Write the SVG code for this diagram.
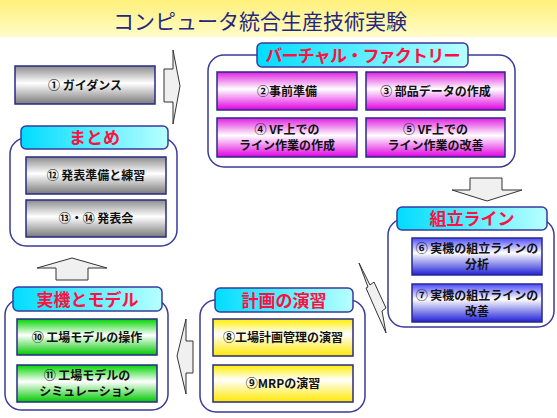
<svg xmlns="http://www.w3.org/2000/svg" width="557" height="418" viewBox="0 0 557 418">
<defs>
<linearGradient id="gBan" x1="0" y1="0" x2="0" y2="1"><stop offset="0" stop-color="#fff07a"/><stop offset="1" stop-color="#fffcc8"/></linearGradient>
<linearGradient id="gTab" x1="0" y1="0" x2="1" y2="0"><stop offset="0" stop-color="#00dcff"/><stop offset="1" stop-color="#b8ffff"/></linearGradient>
<linearGradient id="gGray" x1="0" y1="0" x2="0" y2="1"><stop offset="0" stop-color="#8c8c8c"/><stop offset="0.45" stop-color="#ffffff"/><stop offset="1" stop-color="#7a7a7a"/></linearGradient>
<linearGradient id="gPink" x1="0" y1="0" x2="0" y2="1"><stop offset="0" stop-color="#e020e0"/><stop offset="0.45" stop-color="#ffffff"/><stop offset="1" stop-color="#e000e0"/></linearGradient>
<linearGradient id="gBlue" x1="0" y1="0" x2="0" y2="1"><stop offset="0" stop-color="#4a4aff"/><stop offset="0.4" stop-color="#ffffff"/><stop offset="1" stop-color="#2020d8"/></linearGradient>
<linearGradient id="gYel" x1="0" y1="0" x2="0" y2="1"><stop offset="0" stop-color="#ffee00"/><stop offset="0.4" stop-color="#ffffff"/><stop offset="1" stop-color="#ffe800"/></linearGradient>
<linearGradient id="gGrn" x1="0" y1="0" x2="0" y2="1"><stop offset="0" stop-color="#00d400"/><stop offset="0.45" stop-color="#ffffff"/><stop offset="1" stop-color="#00c800"/></linearGradient>
</defs>
<style>
.grp{fill:#ffffff;stroke:#3a3a9a;stroke-width:1.5}
.tab{fill:url(#gTab);stroke:#3a3a9a;stroke-width:1.5}
.box{stroke:#2a2a88;stroke-width:1.5}
.tt{font-family:"Noto Sans CJK JP",sans-serif;font-size:17px;font-weight:bold;fill:#ff1040;text-anchor:middle}
.bt{font-family:"Noto Sans CJK JP",sans-serif;font-size:12px;font-weight:bold;fill:#111111;text-anchor:middle}
.arr{fill:#f0f0f0;stroke:#333333;stroke-width:1}
</style>
<rect x="0" y="0" width="557" height="37" fill="url(#gBan)"/>
<text x="260" y="29" font-family="'Noto Sans CJK JP',sans-serif" font-size="21" fill="#26267e" text-anchor="middle">コンピュータ統合生産技術実験</text>

<g id="connectors">
<polygon class="arr" points="164,69 173,69 173,50 180,86 173,124 173,102 164,102"/>
<polygon class="arr" points="470,178 502,178 502,190 522,190 487,201 452,190 470,190"/>
<polygon class="arr" points="359,263 370,285 374,282 386,308 382,311 386,333 377,313 366,288 368,287"/>
<polygon class="arr" points="193,341 186,341 186,319 177,356 186,394 186,373 193,373"/>
<polygon class="arr" points="56,280 88,280 88,268 107,268 72,258 37,268 56,268"/>
</g>

<g id="n1">
<rect class="box" x="15" y="66" width="140" height="38" fill="url(#gGray)"/>
<text class="bt" x="85" y="89.5">① ガイダンス</text>
</g>

<g id="matome">
<rect class="grp" x="10" y="138" width="167" height="108" rx="16"/>
<rect class="tab" x="21" y="126" width="147" height="23" rx="5"/>
<text class="tt" x="94.5" y="144">まとめ</text>
<g id="n12"><rect class="box" x="26" y="157" width="140" height="37" fill="url(#gGray)"/><text class="bt" x="96" y="180">⑫ 発表準備と練習</text></g>
<g id="n13"><rect class="box" x="26" y="200" width="140" height="37" fill="url(#gGray)"/><text class="bt" x="96" y="223">⑬・⑭ 発表会</text></g>
</g>

<g id="vf">
<rect class="grp" x="208" y="55" width="307" height="112" rx="16"/>
<rect class="tab" x="257" y="43" width="211" height="24" rx="5"/>
<text class="tt" x="362.5" y="61.5" letter-spacing="-0.8">バーチャル・ファクトリー</text>
<g id="n2"><rect class="box" x="217" y="72" width="140" height="38" fill="url(#gPink)"/><text class="bt" x="287" y="95.5">②事前準備</text></g>
<g id="n3"><rect class="box" x="366" y="72" width="139" height="38" fill="url(#gPink)"/><text class="bt" x="435.5" y="95.5">③ 部品データの作成</text></g>
<g id="n4"><rect class="box" x="217" y="118" width="140" height="39" fill="url(#gPink)"/><text class="bt" x="287" y="134">④ VF上での</text><text class="bt" x="287" y="150">ライン作業の作成</text></g>
<g id="n5"><rect class="box" x="366" y="118" width="139" height="39" fill="url(#gPink)"/><text class="bt" x="435.5" y="134">⑤ VF上での</text><text class="bt" x="435.5" y="150">ライン作業の改善</text></g>
</g>

<g id="kumitate">
<rect class="grp" x="388" y="219" width="166" height="108" rx="16"/>
<rect class="tab" x="397" y="207" width="150" height="23" rx="5"/>
<text class="tt" x="472" y="225">組立ライン</text>
<g id="n6"><rect class="box" x="412" y="238" width="130" height="37" fill="url(#gBlue)"/><text class="bt" x="477" y="253">⑥ 実機の組立ラインの</text><text class="bt" x="477" y="269">分析</text></g>
<g id="n7"><rect class="box" x="412" y="284" width="130" height="38" fill="url(#gBlue)"/><text class="bt" x="477" y="299.5">⑦ 実機の組立ラインの</text><text class="bt" x="477" y="315.5">改善</text></g>
</g>

<g id="keikaku">
<rect class="grp" x="200" y="300" width="165" height="112" rx="16"/>
<rect class="tab" x="215" y="288" width="138" height="24" rx="5"/>
<text class="tt" x="284" y="306.5">計画の演習</text>
<g id="n8"><rect class="box" x="213" y="319" width="140" height="37" fill="url(#gYel)"/><text class="bt" x="283" y="342">⑧工場計画管理の演習</text></g>
<g id="n9"><rect class="box" x="213" y="365" width="140" height="37" fill="url(#gYel)"/><text class="bt" x="283" y="388">⑨MRPの演習</text></g>
</g>

<g id="jikki">
<rect class="grp" x="5" y="299" width="163" height="111" rx="16"/>
<rect class="tab" x="13" y="287" width="149" height="24" rx="5"/>
<text class="tt" x="87.5" y="305.5">実機とモデル</text>
<g id="n10"><rect class="box" x="17" y="319" width="140" height="36" fill="url(#gGrn)"/><text class="bt" x="87" y="341.5">⑩ 工場モデルの操作</text></g>
<g id="n11"><rect class="box" x="17" y="365" width="140" height="37" fill="url(#gGrn)"/><text class="bt" x="87" y="380">⑪ 工場モデルの</text><text class="bt" x="87" y="396">シミュレーション</text></g>
</g>
</svg>
